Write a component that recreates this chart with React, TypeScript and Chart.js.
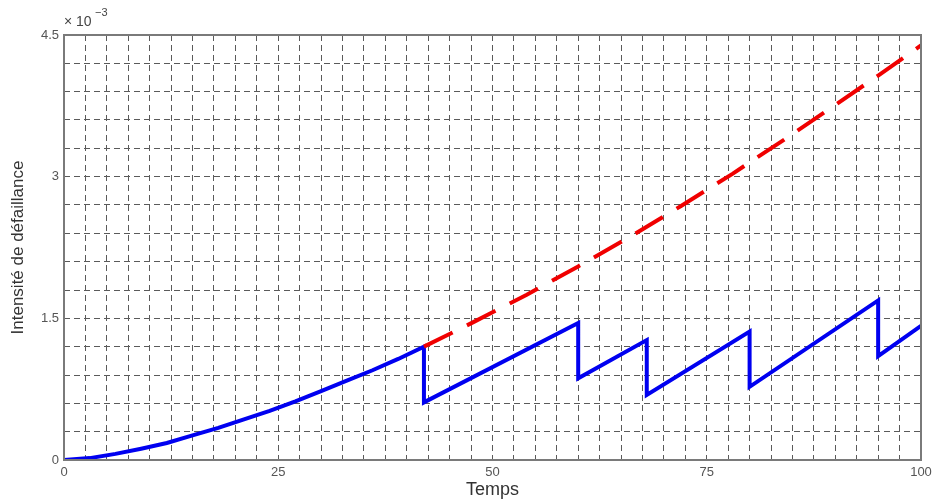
import React, { useEffect, useRef } from "react";
import { Chart, registerables } from "chart.js";

Chart.register(...registerables);

// Values in units of 1e-3
const blueT = [0, 3, 6, 9, 12, 15, 18, 21, 24, 27, 30, 33, 36, 39, 42, 42, 60, 60, 68, 68, 80, 80, 95, 95, 100];
const blueV = [0, 0.02, 0.065, 0.12, 0.18, 0.26, 0.34, 0.43, 0.52, 0.62, 0.73, 0.84, 0.95, 1.07, 1.2, 0.61, 1.45, 0.865, 1.27, 0.69, 1.36, 0.775, 1.69, 1.1, 1.42];
const redT = [42, 48, 54, 60, 66, 72, 78, 84, 90, 95, 100];
const redV = [1.2, 1.47, 1.75, 2.05, 2.36, 2.69, 3.03, 3.39, 3.76, 4.07, 4.39];
const xLabels = [0, 25, 50, 75, 100];
const yLabels = [0, 1.5, 3, 4.5];

const FONT = "'Liberation Sans', Arial, sans-serif";

const framePlugin = {
  id: "frame",
  afterDraw(chart: any) {
    const { ctx, chartArea } = chart;
    ctx.save();
    ctx.strokeStyle = "#7a7a7a";
    ctx.lineWidth = 2;
    ctx.setLineDash([]);
    ctx.strokeRect(chartArea.left, chartArea.top, chartArea.right - chartArea.left, chartArea.bottom - chartArea.top);
    ctx.fillStyle = "#444";
    ctx.textBaseline = "middle";
    ctx.textAlign = "left";
    ctx.font = `14px ${FONT}`;
    ctx.fillText("× 10", chartArea.left, 22);
    ctx.font = `11px ${FONT}`;
    ctx.fillText("−3", chartArea.left + 31, 13);
    ctx.restore();
  },
};

export default function App() {
  const ref = useRef<HTMLCanvasElement>(null);
  useEffect(() => {
    const canvas = ref.current!;
    const chart = new Chart(canvas, {
      type: "line",
      data: {
        datasets: [
          {
            data: redT.map((t, i) => ({ x: t, y: redV[i] })),
            borderColor: "#f00000",
            borderWidth: 4,
            borderDash: [32, 16],
            pointRadius: 0,
            tension: 0,
          },
          {
            data: blueT.map((t, i) => ({ x: t, y: blueV[i] })),
            borderColor: "#0000f0",
            borderWidth: 4,
            pointRadius: 0,
            tension: 0,
          },
        ],
      },
      options: {
        animation: false,
        responsive: true,
        maintainAspectRatio: false,
        layout: { padding: { top: 35, right: 16, left: 0, bottom: 0 } },
        plugins: { legend: { display: false }, tooltip: { enabled: false } },
        scales: {
          x: {
            type: "linear",
            min: 0,
            max: 100,
            afterFit(scale: any) {
              scale.height = 43;
            },
            ticks: {
              stepSize: 2.5,
              autoSkip: false,
              maxRotation: 0,
              padding: 5,
              color: "#555",
              font: { family: FONT, size: 13 },
              callback: (v: any) => (xLabels.some((l) => Math.abs(l - v) < 1e-6) ? String(Math.round(v)) : ""),
            },
            grid: { color: "#5a5a5a", lineWidth: 1, drawTicks: false },
            border: { display: false, dash: [6, 4] },
            title: {
              display: true,
              text: "Temps",
              color: "#333",
              font: { family: FONT, size: 18 },
              padding: { top: 0, bottom: 2 },
            },
          },
          y: {
            type: "linear",
            min: 0,
            max: 4.5,
            afterFit(scale: any) {
              scale.width = 64;
            },
            ticks: {
              stepSize: 0.3,
              autoSkip: false,
              padding: 5,
              color: "#555",
              font: { family: FONT, size: 13 },
              callback: (v: any) => {
                const m = yLabels.find((l) => Math.abs(l - v) < 1e-6);
                return m === undefined ? "" : String(m);
              },
            },
            grid: { color: "#5a5a5a", lineWidth: 1, drawTicks: false },
            border: { display: false, dash: [6, 4] },
            title: {
              display: true,
              text: "Intensité de défaillance",
              color: "#333",
              font: { family: FONT, size: 17 },
              padding: { top: 8, bottom: 0 },
            },
          },
        },
      },
      plugins: [framePlugin],
    });
    return () => chart.destroy();
  }, []);
  return (
    <div style={{ position: "absolute", left: 0, top: 0, width: 937, height: 503, background: "#fff" }}>
      <canvas ref={ref} />
    </div>
  );
}
